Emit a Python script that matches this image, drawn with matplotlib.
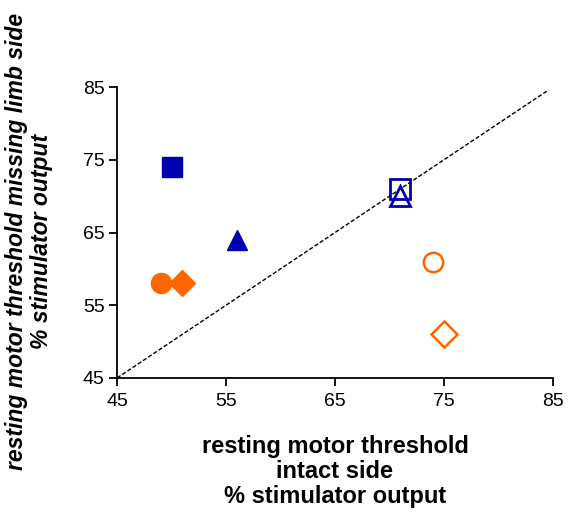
import matplotlib
matplotlib.use("Agg")
import matplotlib.pyplot as plt

plt.rcParams['font.family'] = ['Liberation Sans', 'DejaVu Sans']

BLUE = '#0000B0'
ORANGE = '#FF6600'

# data: (intact side, missing limb side)
blue_filled_square = ([50], [74])
blue_filled_triangle = ([56], [64])
blue_open_square = ([71], [71])
blue_open_triangle = ([71], [70])
orange_filled_circle = ([49], [58])
orange_filled_diamond = ([51], [58])
orange_open_circle = ([74], [61])
orange_open_diamond = ([75], [51])

ticks = [45, 55, 65, 75, 85]
identity = [45, 84.6]

fig = plt.figure(figsize=(5.69, 5.13), dpi=100)
ax = fig.add_axes([117/569, 1-378/513, (553-117)/569, (378-87)/513])

ax.plot(identity, identity, ls=(0, (3, 1.5)), color='black', lw=1.0, zorder=1)

ms = 14.5
ax.plot(*blue_filled_square, 's', ms=ms, color=BLUE, mec=BLUE, zorder=3, clip_on=False)
ax.plot(*blue_filled_triangle, '^', ms=ms, color=BLUE, mec=BLUE, zorder=3, clip_on=False)
ax.plot(*blue_open_square, 's', ms=14, mfc='none', mec=BLUE, mew=2.0, zorder=3, clip_on=False)
ax.plot(*blue_open_triangle, '^', ms=14, mfc='none', mec=BLUE, mew=2.0, zorder=3, clip_on=False)
ax.plot(*orange_filled_circle, 'o', ms=14.5, color=ORANGE, mec=ORANGE, zorder=3, clip_on=False)
ax.plot(*orange_filled_diamond, 'D', ms=13.5, color=ORANGE, mec=ORANGE, zorder=3, clip_on=False)
ax.plot(*orange_open_circle, 'o', ms=14, mfc='none', mec=ORANGE, mew=1.8, zorder=3, clip_on=False)
ax.plot(*orange_open_diamond, 'D', ms=13.5, mfc='none', mec=ORANGE, mew=1.8, zorder=3, clip_on=False)

ax.set_xlim(45, 85)
ax.set_ylim(45, 85)
ax.set_xticks(ticks)
ax.set_yticks(ticks)
ax.set_xticklabels([str(t) for t in ticks])
ax.set_yticklabels([str(t) for t in ticks])
for s in ['top', 'right']:
    ax.spines[s].set_visible(False)
for s in ['left', 'bottom']:
    ax.spines[s].set_linewidth(1.3)
ax.tick_params(direction='out', length=6, width=1.3, labelsize=14, pad=3)
ax.tick_params(axis='x', pad=5)

ax.set_xlabel('resting motor threshold\nintact side\n% stimulator output',
              fontsize=17, fontweight='bold', linespacing=1.1, labelpad=18)
ax.set_ylabel('resting motor threshold missing limb side\n% stimulator output',
              fontsize=16.5, fontweight='bold', fontstyle='italic', linespacing=1.1)
ax.yaxis.set_label_coords(-64/436, 0.47)

fig.savefig('out.png', dpi=100, facecolor='white')
